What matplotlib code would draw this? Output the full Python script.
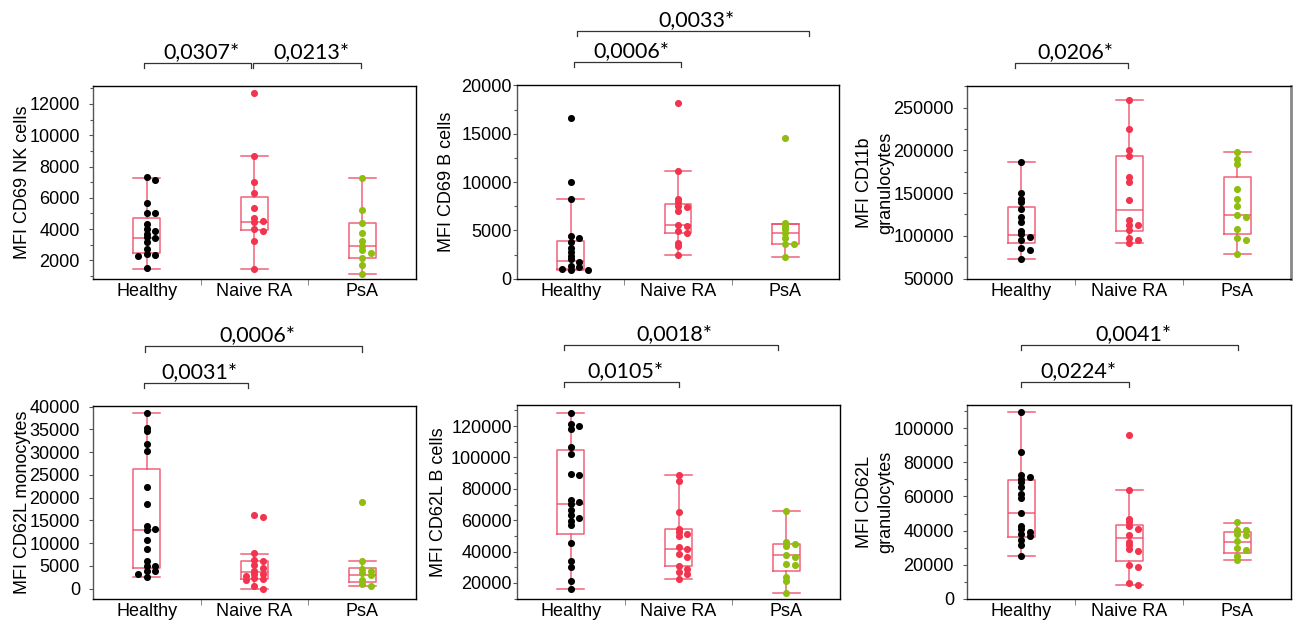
import numpy as np
import matplotlib.pyplot as plt
from matplotlib.ticker import MultipleLocator, FixedLocator, NullLocator

groups = ['Healthy', 'Naive RA', 'PsA']

# MFI CD69 NK cells
nk_healthy = [7300, 7150, 5650, 5060, 5050, 4340, 4020, 3890, 3700, 3470, 3400, 3170, 2720, 2400, 2360, 2250, 1490]
nk_naive = [12680, 8690, 6990, 6330, 5360, 4700, 4530, 4480, 4000, 3890, 3210, 1450]
nk_psa = [7290, 5190, 4380, 3740, 3270, 2930, 2640, 2470, 2130, 1700, 1110]
# box stats: whisker low, q1, median, q3, whisker high
nk_box = [[1430, 2470, 3400, 4680, 7290], [1450, 3930, 4480, 6080, 8690], [1110, 2130, 2910, 4360, 7290]]

# MFI CD69 B cells
b69_healthy = [16600, 10000, 8200, 4400, 4200, 3800, 3200, 2800, 2400, 2000, 1700, 1300, 1200, 1000, 900, 900]
b69_naive = [18200, 11200, 8240, 7900, 7480, 7450, 7030, 5590, 5480, 4900, 4690, 3690, 3340, 2410]
b69_psa = [14600, 5760, 5410, 5100, 4720, 4170, 3590, 3590, 2240]
b69_box = [[930, 1000, 1830, 3930, 8240], [2410, 4720, 5520, 7760, 11200], [2240, 3590, 4720, 5660, 5660]]

# MFI CD11b granulocytes
cd11b_healthy = [186300, 150100, 143500, 140000, 131500, 121800, 116300, 105100, 101600, 98500, 95700, 86000, 82900, 72800]
cd11b_naive = [258600, 225500, 200700, 193700, 168400, 163400, 142000, 118700, 112800, 112100, 107000, 97700, 94600, 91500]
cd11b_psa = [197600, 189400, 184000, 155200, 143500, 135400, 124500, 121800, 107800, 97300, 94600, 78200]
cd11b_box = [[72800, 91800, 100800, 134200, 186300], [91500, 106200, 130300, 193700, 258600],
             [78200, 101900, 124500, 169200, 197600]]

# MFI CD62L monocytes
mono_healthy = [38600, 35400, 34600, 31900, 30300, 22400, 18700, 13800, 13200, 12800, 10700, 8800, 6100, 5000, 5000,
                3900, 3800, 3300, 2600]
mono_naive = [16200, 15800, 7800, 6300, 6000, 5200, 4600, 4000, 3300, 3200, 2800, 2400, 2200, 2000, 500, 0]
mono_psa = [19000, 6200, 4400, 3900, 3400, 3000, 2000, 1000, 650]
mono_box = [[2600, 4650, 12950, 26400, 38600], [0, 2250, 3700, 6200, 7700], [650, 1450, 3100, 4600, 6100]]

# MFI CD62L B cells
b62_healthy = [128300, 121100, 119800, 118100, 106400, 102200, 89200, 89000, 72900, 71400, 70300, 66300, 63100, 61600,
               59500, 57200, 45300, 34000, 30000, 21500, 16000]
b62_naive = [89000, 85200, 65200, 54600, 52500, 51200, 49800, 43100, 41400, 38500, 36800, 31000, 29200, 27200, 25700, 22300]
b62_psa = [65700, 45900, 44800, 43800, 38100, 36400, 32300, 31700, 23800, 21300, 13400]
b62_box = [[16000, 51200, 70100, 104500, 128500], [22300, 30800, 41900, 54200, 89000], [13400, 27600, 37600, 45100, 65700]]

# MFI CD62L granulocytes
g62_healthy = [109500, 85800, 72300, 71300, 70200, 68200, 65300, 61600, 58900, 50100, 42700, 40900, 39200, 37800, 36700,
               34300, 31400, 25000]
g62_naive = [95900, 63600, 46800, 44800, 42500, 40900, 37600, 33500, 31600, 29000, 27900, 19700, 18700, 9000, 8000]
g62_psa = [44800, 40600, 40200, 37800, 37600, 33700, 30000, 28700, 25300, 23000]
g62_box = [[24800, 36100, 50100, 69400, 109500], [8200, 22200, 35900, 43500, 63600], [22800, 26900, 33300, 39000, 44600]]

# p values of the comparisons
p_nk = ['0,0307*', '0,0213*']
p_b69 = ['0,0006*', '0,0033*']
p_cd11b = ['0,0206*']
p_mono = ['0,0031*', '0,0006*']
p_b62 = ['0,0105*', '0,0018*']
p_g62 = ['0,0224*', '0,0041*']

W, H = 1299, 623
dot_colors = ['black', '#f2344f', '#8fbd10']
box_color = '#ee4863'

# layout: pixel box (left, top, right, bottom), ylim, major/minor step, tick pad, label x,
# brackets as (x1, x2, y in axes units)
panels = [
    dict(px=(93, 86, 416, 279), data=[nk_healthy, nk_naive, nk_psa], box=nk_box, ylabel='MFI CD69 NK cells',
         ylim=(810, 13150), major=2000, minor=1000, pad=6.4, lx=-0.192,
         br=[(-0.03, 0.97, 1.12), (0.99, 1.99, 1.12)], p=p_nk),
    dict(px=(517, 85, 839, 279), data=[b69_healthy, b69_naive, b69_psa], box=b69_box, ylabel='MFI CD69 B cells',
         ylim=(-30, 20050), major=5000, minor=2500, pad=0.8, lx=-0.193,
         br=[(0.03, 1.03, 1.12), (0.06, 2.22, 1.28)], p=p_b69),
    dict(px=(967, 86, 1291, 279), data=[cd11b_healthy, cd11b_naive, cd11b_psa], box=cd11b_box,
         ylabel='MFI CD11b\ngranulocytes', ylim=(49500, 275300), major=50000, minor=25000, pad=6.4, lx=-0.225,
         br=[(-0.06, 0.99, 1.12)], p=p_cd11b),
    dict(px=(93, 406, 416, 599), data=[mono_healthy, mono_naive, mono_psa], box=mono_box,
         ylabel='MFI CD62L monocytes', ylim=(-2250, 40150), major=5000, minor=None, pad=6.4, lx=-0.192,
         br=[(-0.03, 0.94, 1.12), (-0.02, 2.0, 1.31)], p=p_mono),
    dict(px=(517, 405, 840, 599), data=[b62_healthy, b62_naive, b62_psa], box=b62_box, ylabel='MFI CD62L B cells',
         ylim=(9800, 133400), major=20000, minor=10000, pad=0.8, lx=-0.217,
         br=[(-0.06, 1.0, 1.12), (-0.06, 1.92, 1.31)], p=p_b62),
    dict(px=(967, 405, 1291, 599), data=[g62_healthy, g62_naive, g62_psa], box=g62_box,
         ylabel='MFI CD62L\ngranulocytes', ylim=(-150, 113650), major=20000, minor=10000, pad=6.4, lx=-0.225,
         br=[(0.0, 1.0, 1.12), (0.0, 2.01, 1.31)], p=p_g62),
]

plt.rcParams['font.family'] = ['Liberation Sans', 'DejaVu Sans']


def spread(vals, yrange):
    # small side shifts so overlapping dots stay visible
    thr = 0.015 * yrange
    placed = []
    offs = []
    for v in vals:
        for dx in [0.0, 0.08, -0.08, 0.16, -0.16, 0.24]:
            if all(abs(v - pv) > thr or abs(dx - po) > 0.06 for pv, po in placed):
                break
        placed.append((v, dx))
        offs.append(dx)
    return np.array(offs)


fig = plt.figure(figsize=(W / 100, H / 100), dpi=100)

for pn in panels:
    l, t, r, b = pn['px']
    ax = fig.add_axes([l / W, 1 - b / H, (r - l) / W, (b - t) / H])
    ax.set_xlim(-0.5, 2.5)
    ax.set_ylim(*pn['ylim'])
    yr = pn['ylim'][1] - pn['ylim'][0]

    stats = [dict(whislo=s[0], q1=s[1], med=s[2], q3=s[3], whishi=s[4]) for s in pn['box']]
    lp = dict(color=box_color, lw=1.1, alpha=0.85)
    ax.bxp(stats, positions=[0, 1, 2], widths=0.25, capwidths=0.25, showfliers=False,
           boxprops=lp, whiskerprops=lp, capprops=lp, medianprops=lp)

    for i, vals in enumerate(pn['data']):
        vals = np.array(vals)
        ax.scatter(i + spread(vals, yr), vals, s=26, color=dot_colors[i], lw=0, zorder=3)

    ax.xaxis.set_major_locator(FixedLocator([0, 1, 2]))
    ax.set_xticklabels(groups)
    ax.xaxis.set_minor_locator(FixedLocator([0.5, 1.5]))
    ax.tick_params(axis='x', which='major', length=0, labelsize=13, pad=3)
    ax.tick_params(axis='x', which='minor', length=4, color='#777', direction='out')
    ax.yaxis.set_major_locator(MultipleLocator(pn['major']))
    if pn['minor']:
        ax.yaxis.set_minor_locator(MultipleLocator(pn['minor']))
    else:
        ax.yaxis.set_minor_locator(NullLocator())
    ax.tick_params(axis='y', which='major', length=3, width=0.8, color='#555', labelsize=13, pad=pn['pad'])
    ax.tick_params(axis='y', which='minor', length=2, width=0.8, color='#555')

    for side in ['top', 'right', 'bottom']:
        ax.spines[side].set_color('black')
    ax.spines['left'].set_color('#555')
    for sp in ax.spines.values():
        sp.set_linewidth(1.0)
    if l > 900 and t < 100:
        ax.spines['right'].set_color('#888')
        ax.spines['right'].set_linewidth(2.0)

    ax.set_ylabel(pn['ylabel'], fontsize=13, linespacing=1.35)
    ax.yaxis.set_label_coords(pn['lx'], 0.5)

    tr = ax.get_xaxis_transform()
    hpx = b - t
    for (x1, x2, yb), txt in zip(pn['br'], pn['p']):
        dy = 5.5 / hpx
        ax.plot([x1, x1, x2, x2], [yb - dy, yb, yb, yb - dy], transform=tr, color='#333', lw=0.9,
                clip_on=False)
        ax.text((x1 + x2) / 2 + 0.035, yb + 4.8 / hpx, txt, transform=tr, ha='center', va='baseline',
                fontsize=15.5, family=['Lato', 'DejaVu Sans'])

fig.savefig('out.png', dpi=100)
